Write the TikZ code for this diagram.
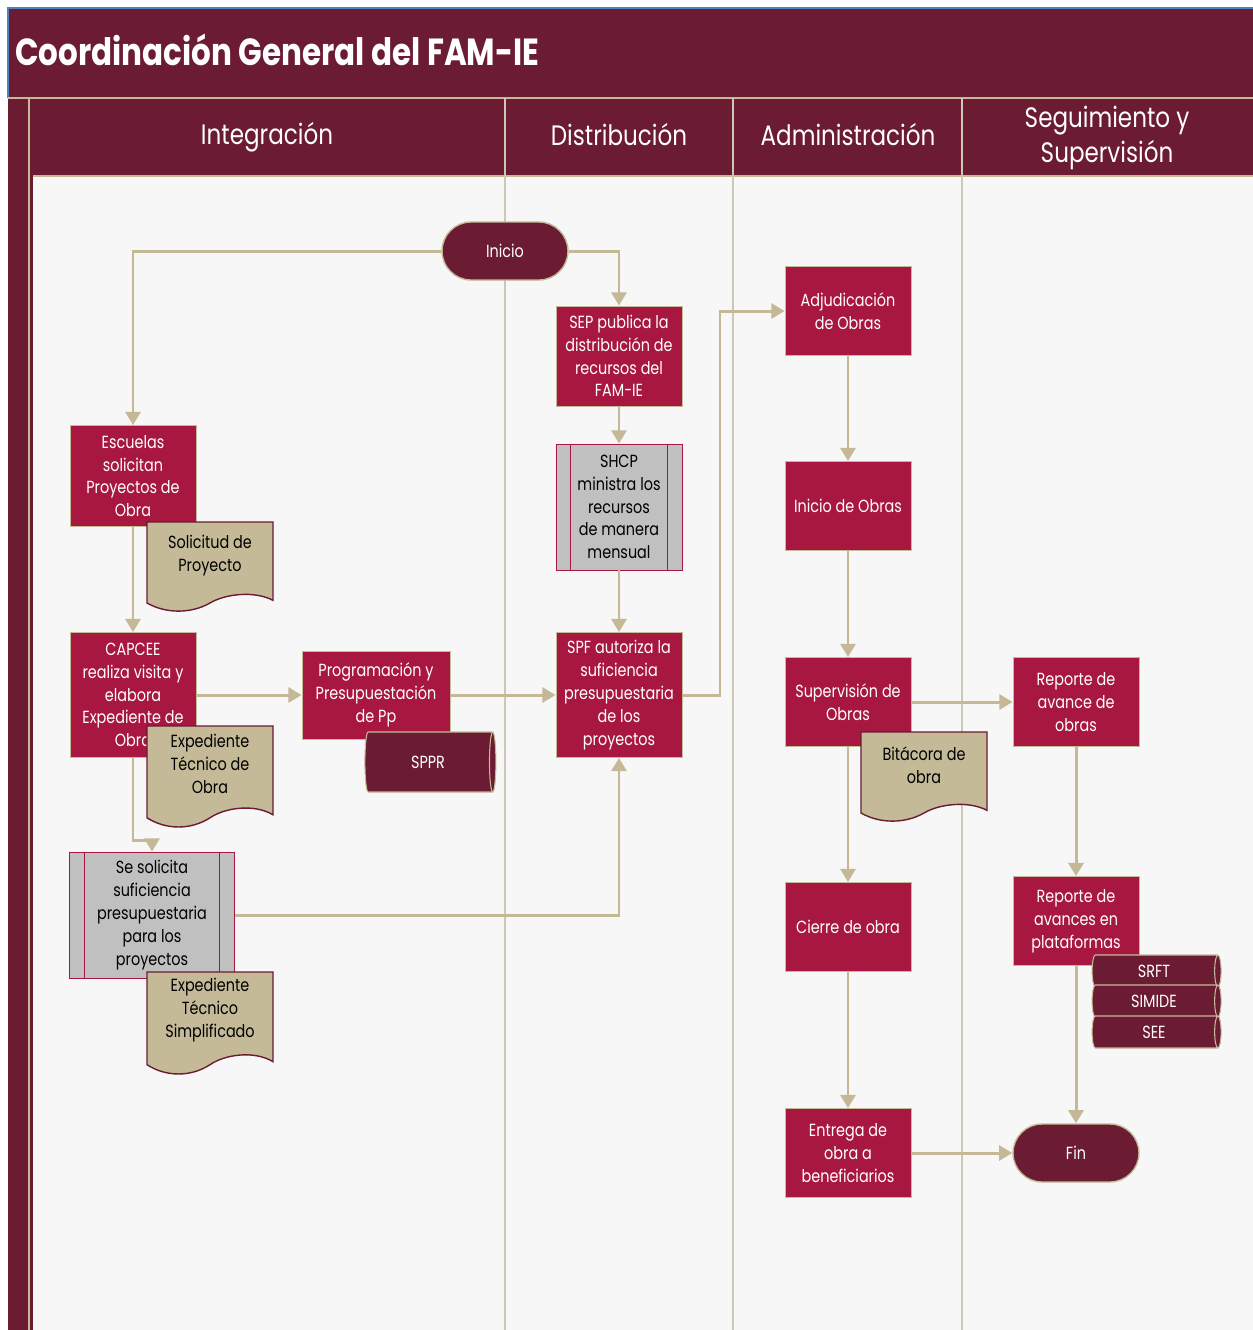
\documentclass[tikz,border=0pt]{standalone}
\usepackage{fontspec}
\setmainfont{Poppins}[FakeStretch=0.82]
\usetikzlibrary{arrows.meta,calc,shapes.geometric}
\definecolor{famWine}{RGB}{107,27,50}
\definecolor{famCrimson}{RGB}{168,23,64}
\definecolor{famTan}{RGB}{196,186,152}
\definecolor{famArrow}{RGB}{196,184,150}
\definecolor{famGray}{RGB}{192,192,192}
\definecolor{famLine}{RGB}{205,200,182}
\definecolor{famBlue}{RGB}{79,129,189}
\tikzset{
    >={Triangle[length=7.5pt,width=8.5pt]},
    every node/.append style={align=center},
    proc/.style={rectangle,fill=famCrimson,draw=famTan,line width=0.5pt,text=white,minimum width=2.52cm,minimum height=1.78cm,inner sep=1pt,font=\fontsize{10}{13}\selectfont},
    subproc/.style={proc,fill=famGray,draw=famCrimson,text=black,
        append after command={([xshift=0.3cm]\tikzlastnode.north west) edge[draw=famCrimson,line width=0.5pt] ([xshift=0.3cm]\tikzlastnode.south west)
                              ([xshift=-0.3cm]\tikzlastnode.north east) edge[draw=famCrimson,line width=0.5pt] ([xshift=-0.3cm]\tikzlastnode.south east)}},
    term/.style={rectangle,rounded corners=0.58cm,fill=famWine,draw=famTan,line width=0.8pt,text=white,minimum width=2.52cm,minimum height=1.16cm,font=\fontsize{10}{13}\selectfont},
    store/.style={cylinder,shape border rotate=0,aspect=0.4,fill=famWine,draw=famTan,line width=0.6pt,text=white,minimum height=2.62cm,minimum width=1.2cm,inner sep=1pt,font=\fontsize{10}{13}\selectfont},
    docline/.style={fill=famTan,draw=famWine,line width=0.8pt},
    doctext/.style={text=black,inner sep=0pt,font=\fontsize{10}{13}\selectfont},
    flow/.style={->,draw=famArrow,line width=1.7pt},
    lane/.style={draw=famLine,line width=0.8pt},
    lanehead/.style={text=white,font=\fontsize{16}{19.5}\selectfont},
}
\newcommand{\docbox}[4]{%
    \begin{scope}[shift={#2}]
        \draw[docline] (0,0) -- (126,0) -- (126,0.87*#3) .. controls (107,0.76*#3) and (78,0.8*#3) .. (63,0.9*#3)
            .. controls (44,1.02*#3) and (19,1.02*#3) .. (0,0.9*#3) -- cycle;
        \node[doctext] (#1) at (63,0.37*#3) {#4};
    \end{scope}}

\begin{document}
\begin{tikzpicture}[x=0.02cm,y=-0.02cm]
    \useasboundingbox (0,0) rectangle (1253,1330);
    \fill[famWine] (8,8) rectangle (1253,98);
    \draw[famBlue,line width=1pt] (8,98) -- (8,8) -- (1253,8);
    \node[anchor=west,text=white,font=\bfseries\fontsize{21.5}{25}\selectfont] (title) at (9,50) {Coordinación General del FAM-IE};
    \fill[famWine] (8,98) rectangle (33,1330);
    \fill[famWine] (33,98) rectangle (1253,176);
    \fill[white!97!black] (33,176) rectangle (1253,1330);
    \draw[famTan,line width=0.8pt] (8,98) -- (1253,98) (33,176) -- (1253,176) (29,98) -- (29,1330);
    \foreach \lx in {505,733,962}
        \draw[lane] (\lx,98) -- (\lx,1330);

    \node[lanehead] (hint) at (267,137) {Integración};
    \node[lanehead] (hdis) at (619,135) {Distribución};
    \node[lanehead] (hadm) at (848,135) {Administración};
    \node[lanehead] (hseg) at (1107,138) {Seguimiento y\\Supervisión};

    \node[term] (inicio) at (505,251) {Inicio};
    \node[proc,minimum height=2cm] (sep) at (619,356) {SEP publica la\\distribución de\\recursos del\\FAM-IE};
    \node[subproc,minimum height=2.52cm] (shcp) at (619,507) {SHCP\\ministra los\\recursos\\de manera\\mensual};
    \node[proc,minimum height=2.5cm] (spf) at (619,695) {SPF autoriza la\\suficiencia\\presupuestaria\\de los\\proyectos};

    \node[proc,minimum height=2.02cm] (escuelas) at (133,476) {Escuelas\\solicitan\\Proyectos de\\Obra};
    \node[proc,minimum height=2.5cm] (capcee) at (133,695) {CAPCEE\\realiza visita y\\elabora\\Expediente de\\Obra};
    \node[proc,minimum width=2.96cm,minimum height=1.76cm] (progr) at (376,695) {Programación y\\Presupuestación\\de Pp};
    \node[subproc,minimum width=3.3cm,minimum height=2.52cm] (solsuf) at (152,915) {Se solicita\\suficiencia\\presupuestaria\\para los\\proyectos};

    \node[proc] (adjud) at (848,311) {Adjudicación\\de Obras};
    \node[proc] (inobras) at (848,506) {Inicio de Obras};
    \node[proc] (superv) at (848,702) {Supervisión de\\Obras};
    \node[proc] (cierre) at (848,927) {Cierre de obra};
    \node[proc] (entrega) at (848,1153) {Entrega de\\obra a\\beneficiarios};

    \node[proc] (repav) at (1076,702) {Reporte de\\avance de\\obras};
    \node[proc] (repplat) at (1076,921) {Reporte de\\avances en\\plataformas};
    \node[term] (fin) at (1076,1153) {Fin};

    \node[store] (sppr) at (428,762) {SPPR};
    \node[store,minimum height=2.58cm,minimum width=0.64cm] (srft) at (1154,971) {SRFT};
    \node[store,minimum height=2.58cm,minimum width=0.64cm] (simide) at (1154,1001) {SIMIDE};
    \node[store,minimum height=2.58cm,minimum width=0.64cm] (see) at (1154,1032) {SEE};

    \docbox{solicitud}{(147,522)}{90}{Solicitud de\\Proyecto}
    \docbox{exped}{(147,726)}{102}{Expediente\\Técnico de\\Obra}
    \docbox{expsimp}{(147,972)}{103}{Expediente\\Técnico\\Simplificado}
    \docbox{bitacora}{(861,732)}{90}{Bitácora de\\obra}

    \coordinate (jog) at (720,695);
    \coordinate (drop) at (133,840);
    \draw[flow] (inicio.west) -| (escuelas.north);
    \draw[flow] (inicio.east) -| (sep.north);
    \draw[flow] (sep) -- (shcp);
    \draw[flow] (shcp) -- (spf);
    \draw[flow] (escuelas) -- (capcee);
    \draw[flow] (capcee) -- (progr);
    \draw[flow] (progr) -- (spf);
    \draw[flow] (spf.east) -- (jog) |- (adjud.west);
    \draw[flow] (capcee.south) -- (drop) -| (solsuf.north);
    \draw[flow] (solsuf.east) -| (spf.south);
    \draw[flow] (adjud) -- (inobras);
    \draw[flow] (inobras) -- (superv);
    \draw[flow] (superv) -- (repav);
    \draw[flow] (superv) -- (cierre);
    \draw[flow] (cierre) -- (entrega);
    \draw[flow] (entrega) -- (fin);
    \draw[flow] (repav) -- (repplat);
    \draw[flow] (repplat) -- (fin);
\end{tikzpicture}
\end{document}
